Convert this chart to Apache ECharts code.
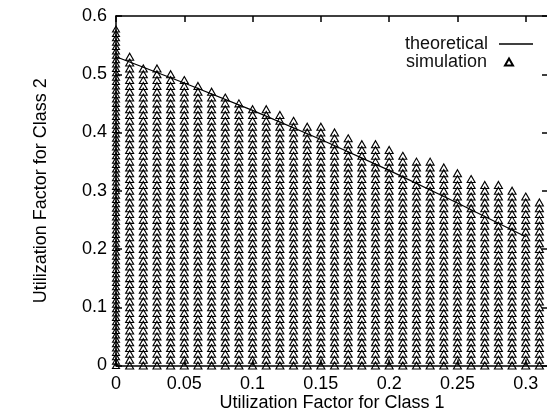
<!DOCTYPE html>
<html>
<head>
<meta charset="utf-8">
<script src="https://cdn.jsdelivr.net/npm/echarts@6/dist/echarts.min.js"></script>
<style>html,body{margin:0;padding:0;background:#fff;}#c{width:547px;height:413px;}</style>
</head>
<body>
<div id="c"></div>
<script>
// Simulation columns: class-1 utilization and the highest class-2 utilization simulated in that column
var class1Columns = [0.01,0.02,0.03,0.04,0.05,0.06,0.07,0.08,0.09,0.10,0.11,0.12,0.13,0.14,0.15,0.16,0.17,0.18,0.19,0.20,0.21,0.22,0.23,0.24,0.25,0.26,0.27,0.28,0.29,0.30,0.31];
var class2ColumnMax = [0.53,0.51,0.51,0.50,0.49,0.48,0.47,0.46,0.45,0.44,0.44,0.43,0.42,0.41,0.41,0.40,0.39,0.38,0.38,0.37,0.36,0.35,0.35,0.34,0.33,0.32,0.31,0.31,0.30,0.29,0.28];
// Class-2 levels simulated in each column
var class2Levels = [0,0.01,0.02,0.03,0.04,0.05,0.06,0.07,0.08,0.09,0.10,0.11,0.12,0.13,0.14,0.15,0.16,0.17,0.18,0.19,0.20,0.21,0.22,0.23,0.24,0.25,0.26,0.27,0.28,0.29,0.30,0.31,0.32,0.33,0.34,0.35,0.36,0.37,0.38,0.39,0.40,0.41,0.42,0.43,0.44,0.45,0.46,0.47,0.48,0.49,0.50,0.51,0.52,0.53];
// Column at class-1 utilization 0 (denser levels)
var class2LevelsAtZero = [0,0.0075,0.015,0.0225,0.03,0.0375,0.045,0.0525,0.06,0.0675,0.075,0.0825,0.09,0.0975,0.105,0.1125,0.12,0.1275,0.135,0.1425,0.15,0.1575,0.165,0.1725,0.18,0.1875,0.195,0.2025,0.21,0.2175,0.225,0.2325,0.24,0.2475,0.255,0.2625,0.27,0.2775,0.285,0.2925,0.3,0.3075,0.315,0.3225,0.33,0.3375,0.345,0.3525,0.36,0.3675,0.375,0.3825,0.39,0.3975,0.405,0.4125,0.42,0.4275,0.435,0.4425,0.45,0.4575,0.465,0.4725,0.48,0.4875,0.495,0.5025,0.51,0.5175,0.525,0.5325,0.54,0.5475,0.555,0.5625,0.57,0.5775];
// Theoretical curve
var theoX = [0,0.05,0.10,0.15,0.20,0.25,0.30];
var theoY = [0.530,0.485,0.438,0.388,0.335,0.279,0.221];
var xTicks = ['0','0.05','0.1','0.15','0.2','0.25','0.3'];
var yTicks = ['0','0.1','0.2','0.3','0.4','0.5','0.6'];

var simData = [];
class2LevelsAtZero.forEach(function(v){ simData.push({value:[0, v], symbolSize:[7,6]}); });
class1Columns.forEach(function(x, i){
  class2Levels.forEach(function(v){ if (v <= class2ColumnMax[i] + 1e-9) simData.push([x, v]); });
});
var theoData = theoX.map(function(x, i){ return [x, theoY[i]]; });

var FONT = '"Liberation Sans", Arial, sans-serif';
var axisLine = {show:true, onZero:false, lineStyle:{color:'#000', width:1.5}};
var tick = {show:true, inside:true, length:6, lineStyle:{color:'#000', width:1.5}};
var chart = echarts.init(document.getElementById('c'), null, {renderer:'canvas'});
chart.setOption({
  animation:false,
  backgroundColor:'#fff',
  textStyle:{fontFamily:FONT},
  grid:{left:116, top:16, width:432, height:349.5, containLabel:false, outerBoundsMode:'none'},
  legend:[{
    data:[{name:'theoretical', icon:'rect'}], orient:'vertical', align:'right', right:9, top:30,
    itemWidth:34, itemHeight:1.3,
    itemStyle:{color:'#000', borderWidth:0},
    textStyle:{fontFamily:FONT, fontSize:18, color:'#111', padding:[0,6,0,0]}
  },{
    data:['simulation'], orient:'vertical', align:'right', right:28, top:48,
    itemWidth:8, itemHeight:7,
    textStyle:{fontFamily:FONT, fontSize:18, color:'#111', padding:[0,13,0,0]}
  }],
  xAxis:[{
    type:'value', position:'bottom', min:0, max:0.3163, interval:0.05,
    axisLine:axisLine, axisTick:tick, splitLine:{show:false},
    axisLabel:{color:'#000', fontSize:18, fontFamily:FONT, margin:10, showMaxLabel:false,
      formatter:function(v){ var i = Math.round(v/0.05); return Math.abs(v - i*0.05) < 1e-6 ? xTicks[i] : ''; }},
    name:'Utilization Factor for Class 1', nameLocation:'middle', nameGap:29, nameMoveOverlap:false,
    nameTextStyle:{color:'#000', fontSize:18, fontFamily:FONT}
  },{
    type:'value', position:'top', min:0, max:0.3163, interval:0.05,
    axisLine:axisLine, axisTick:tick, splitLine:{show:false}, axisLabel:{show:false}
  }],
  yAxis:[{
    type:'value', position:'left', min:0, max:0.6, interval:0.1,
    axisLine:axisLine, axisTick:tick, splitLine:{show:false},
    axisLabel:{color:'#000', fontSize:18, fontFamily:FONT, margin:9,
      formatter:function(v){ return yTicks[Math.round(v/0.1)]; }},
    name:'Utilization Factor for Class 2', nameLocation:'middle', nameGap:66, nameMoveOverlap:false,
    nameTextStyle:{color:'#000', fontSize:18, fontFamily:FONT}
  },{
    type:'value', position:'right', min:0, max:0.6, interval:0.1,
    axisLine:axisLine, axisTick:tick, splitLine:{show:false}, axisLabel:{show:false}
  }],
  series:[{
    name:'simulation', type:'scatter', xAxisIndex:0, yAxisIndex:0,
    symbol:'triangle', symbolSize:[8,7], large:false, z:2,
    itemStyle:{color:'rgba(255,255,255,0)', borderColor:'#000', borderWidth:1.1, opacity:1},
    data:simData
  },{
    name:'theoretical', type:'line', xAxisIndex:0, yAxisIndex:0, symbol:'none', z:3,
    itemStyle:{color:'#000'},
    lineStyle:{color:'#000', width:1.2}, data:theoData
  }]
});
</script>
</body>
</html>
